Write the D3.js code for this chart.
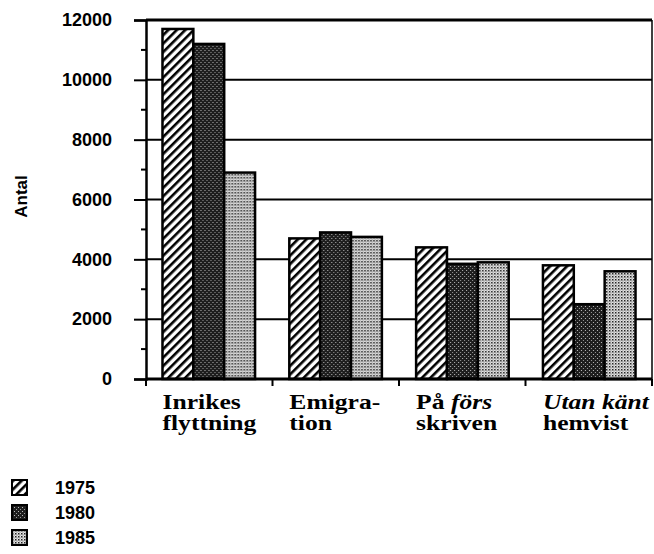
<!DOCTYPE html>
<html>
<head>
<meta charset="utf-8">
<script src="https://cdn.jsdelivr.net/npm/d3@7"></script>
<style>
  body { margin: 0; background: #fff; }
  svg { display: block; }
</style>
</head>
<body>
<div id="chart"></div>
<script>
// data
var categories = ['Inrikes flyttning', 'Emigration', 'På förs skriven', 'Utan känt hemvist'];
var years = ['1975', '1980', '1985'];
var v1975 = [11700, 4700, 4400, 3800];
var v1980 = [11200, 4900, 3850, 2500];
var v1985 = [6900, 4750, 3900, 3600];
var yTicks = [0, 2000, 4000, 6000, 8000, 10000, 12000];
var minorTicks = [1000, 3000, 5000, 7000, 9000, 11000];
// label lines, each segment [text, italic]
var catLabels = [
    [[['Inrikes', false]], [['flyttning', false]]],
    [[['Emigra-', false]], [['tion', false]]],
    [[['På ', false], ['förs', true]], [['skriven', false]]],
    [[['Utan känt', true]], [['hemvist', false]]]
];

(function() {
var series = [v1975, v1980, v1985];
var W = 654, H = 554;
var mLeft = 146, mRight = 652, mTop = 20, mBottom = 379;

var svg = d3.select('#chart')
    .append('svg')
    .attr('width', W)
    .attr('height', H);

var defs = svg.append('defs');

// hatch pattern (1975)
var hatch = defs.append('pattern')
    .attr('id', 'hatch')
    .attr('patternUnits', 'userSpaceOnUse')
    .attr('width', 6)
    .attr('height', 6)
    .attr('patternTransform', 'rotate(45)');
hatch.append('rect').attr('width', 6).attr('height', 6).attr('fill', '#fff');
hatch.append('rect').attr('x', 0).attr('width', 2.6).attr('height', 6).attr('fill', '#000');

// dark stipple (1980)
var dark = defs.append('pattern')
    .attr('id', 'dark')
    .attr('patternUnits', 'userSpaceOnUse')
    .attr('width', 4)
    .attr('height', 4);
dark.append('rect').attr('width', 4).attr('height', 4).attr('fill', '#1e1e1e');
dark.append('rect').attr('x', 0).attr('y', 0).attr('width', 1).attr('height', 1).attr('fill', '#9a9a9a');
dark.append('rect').attr('x', 2).attr('y', 2).attr('width', 1).attr('height', 1).attr('fill', '#bbbbbb');

// light stipple (1985)
var light = defs.append('pattern')
    .attr('id', 'light')
    .attr('patternUnits', 'userSpaceOnUse')
    .attr('width', 3)
    .attr('height', 3);
light.append('rect').attr('width', 3).attr('height', 3).attr('fill', '#e6e6e6');
light.append('rect').attr('x', 0).attr('y', 0).attr('width', 1.5).attr('height', 1.5).attr('fill', '#222');
light.append('rect').attr('x', 1.5).attr('y', 1.5).attr('width', 1).attr('height', 1).attr('fill', '#555');

var fills = ['url(#hatch)', 'url(#dark)', 'url(#light)'];

var y = d3.scaleLinear()
    .domain([0, 12000])
    .range([mBottom, mTop]);

var x0 = d3.scaleBand()
    .domain(categories)
    .range([mLeft, mRight])
    .paddingInner(0.27)
    .paddingOuter(0.13);

var x1 = d3.scaleBand()
    .domain(years)
    .range([0, x0.bandwidth()]);

// gridlines
svg.append('g')
    .selectAll('line')
    .data(yTicks.slice(1))
    .join('line')
    .attr('x1', mLeft)
    .attr('x2', mRight)
    .attr('y1', d => y(d))
    .attr('y2', d => y(d))
    .attr('stroke', '#000')
    .attr('stroke-width', d => d === 12000 ? 3 : 2);

// right border
svg.append('line')
    .attr('x1', mRight)
    .attr('x2', mRight)
    .attr('y1', mTop)
    .attr('y2', mBottom)
    .attr('stroke', '#000')
    .attr('stroke-width', 1.5);

// bars
var groups = svg.append('g')
    .selectAll('g')
    .data(categories)
    .join('g')
    .attr('transform', d => 'translate(' + x0(d) + ',0)');

groups.selectAll('rect')
    .data((d, i) => years.map((yr, j) => ({ yr: yr, v: series[j][i], j: j })))
    .join('rect')
    .attr('x', d => x1(d.yr))
    .attr('y', d => y(d.v))
    .attr('width', x1.bandwidth())
    .attr('height', d => y(0) - y(d.v))
    .attr('fill', d => fills[d.j])
    .attr('stroke', '#000')
    .attr('stroke-width', 2.5);

// y axis
var yAxis = svg.append('g')
    .attr('transform', 'translate(' + mLeft + ',0)')
    .call(d3.axisLeft(y).tickValues(yTicks).tickSize(12).tickPadding(22).tickFormat(d3.format('d')));
yAxis.select('.domain').attr('stroke-width', 2.5);
yAxis.selectAll('.tick line').attr('stroke-width', 2);
yAxis.selectAll('.tick text')
    .attr('font-family', 'Liberation Sans, Arial, sans-serif')
    .attr('font-weight', 'bold')
    .attr('font-size', 18)
    .attr('fill', '#000');

// minor ticks
svg.append('g')
    .selectAll('line')
    .data(minorTicks)
    .join('line')
    .attr('x1', mLeft - 5)
    .attr('x2', mLeft)
    .attr('y1', d => y(d))
    .attr('y2', d => y(d))
    .attr('stroke', '#000')
    .attr('stroke-width', 2);

// x axis baseline
svg.append('line')
    .attr('x1', mLeft)
    .attr('x2', mRight)
    .attr('y1', mBottom)
    .attr('y2', mBottom)
    .attr('stroke', '#000')
    .attr('stroke-width', 3);

// category boundary ticks
var bounds = d3.range(categories.length + 1).map(i => mLeft + i * (mRight - mLeft) / categories.length);
svg.append('g')
    .selectAll('line')
    .data(bounds)
    .join('line')
    .attr('x1', d => d)
    .attr('x2', d => d)
    .attr('y1', mBottom)
    .attr('y2', mBottom + 7)
    .attr('stroke', '#000')
    .attr('stroke-width', 2);

// category labels (old Times is wider, so stretch horizontally)
var lab = svg.append('g')
    .attr('font-family', 'Liberation Serif, Times New Roman, serif')
    .attr('font-weight', 'bold')
    .attr('font-size', 20)
    .attr('fill', '#000');
categories.forEach(function(c, i) {
    var t = lab.append('text')
        .attr('transform', 'translate(' + x0(c) + ',409) scale(1.28,1)');
    catLabels[i].forEach(function(line, k) {
        line.forEach(function(seg, s) {
            var ts = t.append('tspan')
                .text(seg[0])
                .attr('font-style', seg[1] ? 'italic' : 'normal');
            if (s === 0) {
                ts.attr('x', 0).attr('dy', k === 0 ? 0 : 21);
            }
        });
    });
});

// y axis title
svg.append('text')
    .attr('transform', 'translate(27,' + y(6100) + ') rotate(-90)')
    .attr('text-anchor', 'middle')
    .attr('font-family', 'Liberation Sans, Arial, sans-serif')
    .attr('font-weight', 'bold')
    .attr('font-size', 17)
    .text('Antal');

// legend
var legend = svg.append('g')
    .selectAll('g')
    .data(years)
    .join('g')
    .attr('transform', (d, i) => 'translate(12,' + (480 + i * 25) + ')');
legend.append('rect')
    .attr('width', 15)
    .attr('height', 15)
    .attr('fill', (d, i) => fills[i])
    .attr('stroke', '#000')
    .attr('stroke-width', 2);
legend.append('text')
    .attr('x', 43)
    .attr('y', 14)
    .attr('font-family', 'Liberation Sans, Arial, sans-serif')
    .attr('font-weight', 'bold')
    .attr('font-size', 18)
    .text(d => d);
})();
</script>
</body>
</html>
